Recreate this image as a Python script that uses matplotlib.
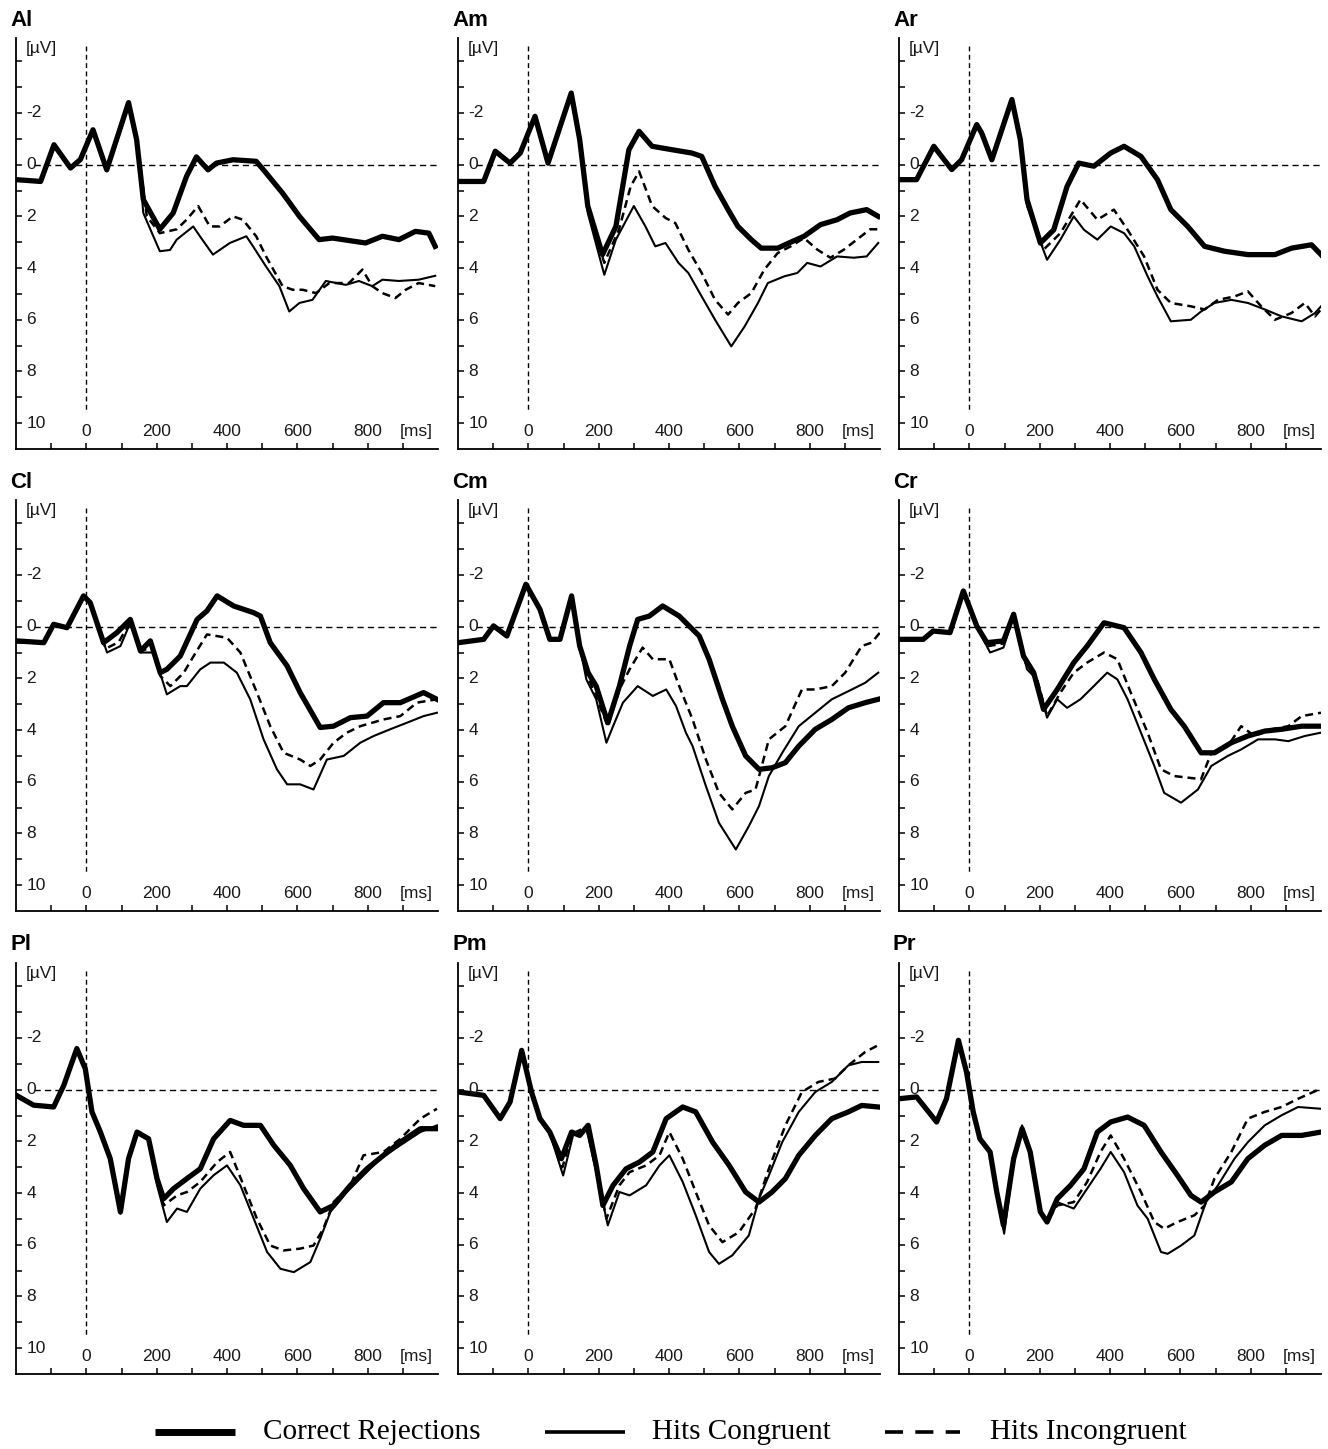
import matplotlib
matplotlib.use("Agg")
import matplotlib.pyplot as plt
from matplotlib.lines import Line2D

# ---------------- data (time ms, amplitude uV) ----------------
PANELS = ["Al", "Am", "Ar", "Cl", "Cm", "Cr", "Pl", "Pm", "Pr"]
CONDITIONS = ["Correct Rejections", "Hits Congruent", "Hits Incongruent"]

AL_CR = [(-199,0.58),(-130,0.65),(-92,-0.77),(-45,0.13),(-17,-0.2),(19,-1.35),(58,0.2),(120,-2.4),(143,-0.97),(162,1.35),(209,2.5),(247,1.87),(285,0.45),(313,-0.3),(346,0.2),(370,-0.06),(417,-0.19),(483,-0.13),(511,0.32),(558,1.1),(606,2.0),(662,2.9),(700,2.84),(794,3.03),(842,2.77),(889,2.9),(936,2.58),(974,2.65),(992,3.16)]
AL_HC = [(-199,0.6),(-130,0.65),(-92,-0.75),(-45,0.15),(-17,-0.2),(19,-1.3),(58,0.25),(120,-2.3),(145,-0.8),(162,1.87),(209,3.35),(238,3.3),(257,2.9),(304,2.39),(323,2.77),(360,3.48),(408,3.03),(455,2.77),(474,3.16),(511,3.94),(549,4.7),(577,5.68),(606,5.35),(643,5.23),(681,4.5),(738,4.65),(775,4.5),(813,4.7),(842,4.45),(889,4.5),(945,4.45),(992,4.3)]
AL_HI = [(-199,0.6),(-130,0.65),(-92,-0.75),(-45,0.15),(-17,-0.2),(19,-1.3),(58,0.22),(120,-2.3),(145,-0.85),(172,2.0),(209,2.65),(257,2.5),(285,2.13),(318,1.6),(351,2.39),(379,2.39),(417,2.0),(445,2.13),(483,2.77),(511,3.55),(558,4.7),(587,4.84),(615,4.84),(653,4.97),(691,4.58),(747,4.58),(785,4.06),(813,4.7),(842,4.97),(879,5.16),(908,4.84),(945,4.58),(992,4.7)]

AM_CR = [(-199,0.65),(-127,0.65),(-94,-0.52),(-52,-0.06),(-23,-0.45),(19,-1.87),(56,-0.06),(122,-2.77),(146,-0.97),(169,1.6),(211,3.48),(249,2.39),(286,-0.58),(315,-1.29),(352,-0.71),(408,-0.58),(465,-0.45),(493,-0.32),(531,0.84),(568,1.74),(596,2.39),(634,2.9),(662,3.23),(709,3.23),(746,3.0),(784,2.77),(831,2.32),(878,2.13),(915,1.87),(962,1.74),(995,2.0)]
AM_HC = [(-199,0.7),(-127,0.65),(-94,-0.5),(-52,-0.05),(-23,-0.45),(19,-1.85),(56,-0.05),(122,-2.7),(146,-0.9),(169,1.87),(216,4.26),(249,2.9),(300,1.6),(333,2.39),(361,3.16),(390,3.03),(427,3.8),(455,4.19),(493,5.1),(531,6.0),(577,7.03),(615,6.26),(653,5.35),(681,4.58),(728,4.32),(765,4.19),(793,3.8),(831,3.94),(878,3.55),(925,3.6),(962,3.55),(995,3.03)]
AM_HI = [(-199,0.7),(-127,0.65),(-94,-0.5),(-52,-0.05),(-23,-0.45),(19,-1.85),(56,-0.05),(122,-2.7),(146,-0.9),(169,1.75),(216,3.8),(258,2.5),(291,0.84),(315,0.26),(352,1.6),(390,2.06),(418,2.26),(455,3.29),(493,4.19),(531,5.23),(568,5.8),(596,5.35),(634,4.97),(671,4.06),(709,3.42),(746,3.16),(784,2.84),(822,3.29),(859,3.6),(897,3.29),(934,2.9),(972,2.5),(995,2.5)]

AR_CR = [(-199,0.58),(-150,0.58),(-101,-0.71),(-50,0.19),(-22,-0.19),(21,-1.55),(35,-1.23),(64,-0.19),(121,-2.52),(145,-0.97),(164,1.35),(202,3.03),(240,2.52),(278,0.84),(311,-0.06),(354,0.06),(402,-0.45),(440,-0.71),(488,-0.32),(535,0.58),(573,1.74),(621,2.39),(669,3.16),(726,3.35),(792,3.48),(869,3.48),(916,3.23),(973,3.1),(1000,3.48)]
AR_HC = [(-199,0.6),(-150,0.58),(-101,-0.7),(-50,0.2),(-22,-0.2),(21,-1.5),(35,-1.2),(64,-0.15),(121,-2.45),(145,-0.9),(164,1.6),(221,3.68),(259,2.9),(297,2.0),(326,2.52),(364,2.9),(402,2.39),(440,2.65),(469,3.16),(507,4.32),(535,5.1),(573,6.06),(630,6.0),(659,5.68),(697,5.35),(745,5.23),(792,5.35),(840,5.6),(888,5.87),(945,6.06),(983,5.74),(1000,5.48)]
AR_HI = [(-199,0.6),(-150,0.58),(-101,-0.7),(-50,0.2),(-22,-0.2),(21,-1.5),(35,-1.2),(64,-0.15),(121,-2.45),(145,-0.9),(164,1.5),(211,3.29),(259,2.65),(316,1.35),(364,2.13),(411,1.74),(450,2.52),(497,3.55),(535,4.84),(573,5.35),(630,5.48),(669,5.6),(707,5.23),(754,5.1),(792,4.9),(830,5.48),(869,6.0),(916,5.74),(954,5.35),(983,5.87),(1000,5.6)]

CL_CR = [(-199,0.55),(-121,0.62),(-93,-0.09),(-55,0.04),(-8,-1.19),(11,-0.93),(49,0.62),(87,0.23),(125,-0.28),(154,0.94),(182,0.55),(210,1.78),(229,1.65),(267,1.14),(315,-0.28),(343,-0.61),(372,-1.19),(419,-0.8),(476,-0.54),(495,-0.41),(523,0.62),(571,1.52),(608,2.55),(665,3.9),(703,3.85),(751,3.52),(798,3.46),(845,2.94),(893,2.94),(959,2.55),(997,2.81)]
CL_HC = [(-199,0.6),(-121,0.62),(-93,-0.05),(-55,0.05),(-8,-1.15),(11,-0.9),(59,1.0),(97,0.75),(125,-0.15),(154,1.0),(191,1.0),(229,2.62),(267,2.3),(286,2.3),(324,1.65),(353,1.39),(391,1.39),(428,1.78),(466,2.81),(504,4.36),(542,5.52),(571,6.1),(608,6.1),(646,6.3),(684,5.14),(732,5.0),(779,4.49),(817,4.23),(864,3.97),(911,3.72),(959,3.46),(997,3.33)]
CL_HI = [(-199,0.6),(-121,0.62),(-93,-0.05),(-55,0.05),(-8,-1.15),(11,-0.9),(55,0.85),(92,0.6),(125,-0.2),(154,0.95),(185,0.8),(210,1.9),(239,2.3),(277,1.78),(305,1.14),(343,0.3),(400,0.43),(438,1.0),(485,2.55),(523,3.85),(561,4.88),(608,5.14),(637,5.39),(665,5.14),(703,4.49),(741,4.1),(779,3.85),(845,3.59),(893,3.46),(940,2.94),(997,2.81)]

CM_CR = [(-199,0.62),(-127,0.49),(-99,-0.03),(-61,0.36),(-7,-1.64),(33,-0.67),(61,0.49),(90,0.49),(123,-1.19),(146,0.75),(170,1.78),(193,2.3),(226,3.72),(259,2.3),(288,0.75),(311,-0.28),(344,-0.41),(382,-0.8),(429,-0.41),(486,0.36),(514,1.26),(552,2.81),(580,3.85),(618,5.0),(656,5.52),(693,5.46),(731,5.26),(769,4.62),(816,3.97),(863,3.59),(910,3.14),(958,2.94),(995,2.81)]
CM_HC = [(-199,0.65),(-127,0.5),(-99,0.0),(-61,0.36),(-7,-1.6),(33,-0.65),(61,0.5),(90,0.5),(123,-1.15),(146,0.75),(165,2.04),(193,2.81),(222,4.49),(241,3.85),(269,2.94),(311,2.3),(354,2.68),(392,2.43),(420,3.07),(448,4.1),(467,4.62),(505,6.17),(542,7.59),(590,8.62),(627,7.72),(656,6.94),(684,5.78),(722,4.88),(769,3.85),(816,3.33),(863,2.81),(920,2.43),(958,2.17),(995,1.78)]
CM_HI = [(-199,0.65),(-127,0.5),(-99,0.0),(-61,0.36),(-7,-1.6),(33,-0.65),(61,0.5),(90,0.5),(123,-1.15),(146,0.75),(165,1.78),(226,3.85),(259,2.43),(288,1.65),(325,0.81),(354,1.26),(401,1.26),(429,2.3),(467,3.59),(505,5.14),(542,6.43),(580,7.07),(618,6.43),(646,6.3),(684,4.36),(731,3.85),(778,2.43),(816,2.43),(863,2.3),(901,1.78),(948,0.75),(976,0.62),(1000,0.23)]

CR_CR = [(-199,0.49),(-131,0.49),(-103,0.17),(-55,0.23),(-17,-1.38),(21,-0.03),(50,0.62),(97,0.55),(126,-0.48),(154,1.14),(183,1.78),(211,3.2),(250,2.43),(297,1.39),(335,0.75),(383,-0.15),(440,0.04),(488,1.0),(526,2.04),(573,3.2),(611,3.85),(659,4.88),(697,4.88),(745,4.49),(792,4.23),(840,4.04),(888,3.97),(945,3.85),(1000,3.85)]
CR_HC = [(-199,0.5),(-131,0.5),(-103,0.2),(-55,0.25),(-17,-1.35),(21,0.0),(59,1.0),(97,0.81),(126,-0.41),(164,1.65),(192,2.04),(221,3.52),(250,2.81),(278,3.14),(316,2.81),(354,2.3),(392,1.78),(421,2.04),(450,2.81),(488,4.1),(526,5.39),(554,6.43),(602,6.81),(650,6.3),(688,5.39),(735,5.0),(773,4.75),(821,4.36),(869,4.36),(907,4.43),(954,4.23),(1000,4.1)]
CR_HI = [(-199,0.5),(-131,0.5),(-103,0.2),(-55,0.25),(-17,-1.35),(21,0.0),(55,0.75),(97,0.65),(126,-0.45),(160,1.4),(190,1.9),(221,3.46),(259,2.55),(297,1.78),(335,1.39),(383,1.0),(421,1.26),(459,2.55),(507,4.1),(545,5.52),(583,5.78),(659,5.9),(688,4.88),(735,4.62),(773,3.85),(811,4.23),(859,3.97),(907,3.85),(945,3.46),(1000,3.33)]

PL_CR = [(-199,0.22),(-150,0.6),(-93,0.67),(-64,-0.17),(-27,-1.59),(-3,-0.81),(16,0.86),(40,1.64),(68,2.67),(97,4.73),(120,2.67),(144,1.64),(177,1.9),(201,3.44),(220,4.22),(248,3.83),(286,3.44),(324,3.06),(362,1.9),(409,1.19),(447,1.38),(495,1.38),(533,2.15),(580,2.93),(618,3.83),(665,4.73),(703,4.48),(751,3.7),(798,3.06),(845,2.54),(893,2.03),(950,1.51),(997,1.51)]
PL_HC = [(-199,0.25),(-150,0.6),(-93,0.67),(-64,-0.15),(-27,-1.55),(-3,-0.8),(16,0.9),(40,1.7),(68,2.7),(97,4.8),(120,2.7),(144,1.7),(177,1.95),(201,3.7),(229,5.12),(258,4.6),(286,4.73),(324,3.83),(362,3.31),(400,2.93),(438,3.7),(476,4.99),(514,6.28),(552,6.93),(590,7.06),(637,6.67),(665,5.77),(694,4.73),(741,3.96),(779,3.44),(836,2.67),(893,2.15),(950,1.64),(997,1.38)]
PL_HI = [(-199,0.25),(-150,0.6),(-93,0.67),(-64,-0.15),(-27,-1.55),(-3,-0.8),(16,0.9),(40,1.7),(68,2.7),(97,4.75),(120,2.7),(144,1.65),(177,1.9),(201,3.5),(220,4.48),(258,4.09),(286,3.96),(324,3.57),(372,2.8),(409,2.41),(447,3.7),(485,4.99),(523,6.03),(561,6.22),(608,6.15),(646,6.03),(674,5.38),(703,4.35),(751,3.7),(788,2.54),(845,2.41),(893,1.9),(950,1.12),(997,0.74)]

PM_CR = [(-199,0.09),(-127,0.22),(-80,1.12),(-52,0.48),(-19,-1.52),(9,0.09),(33,1.12),(61,1.64),(94,2.67),(123,1.64),(146,1.77),(170,1.38),(193,2.93),(212,4.48),(241,3.7),(278,3.06),(316,2.8),(354,2.41),(392,1.12),(439,0.67),(476,0.86),(524,2.03),(571,2.93),(618,3.96),(656,4.35),(693,3.96),(731,3.44),(769,2.54),(816,1.77),(863,1.12),(910,0.86),(948,0.61),(995,0.67)]
PM_HC = [(-199,0.1),(-127,0.22),(-80,1.1),(-52,0.48),(-19,-1.5),(9,0.1),(33,1.15),(61,1.7),(99,3.32),(127,1.77),(165,1.51),(193,3.19),(226,5.25),(259,3.96),(288,4.09),(335,3.7),(373,2.93),(401,2.54),(439,3.57),(476,4.86),(514,6.28),(542,6.74),(580,6.41),(627,5.64),(656,4.22),(684,3.32),(722,2.03),(769,0.86),(816,0.09),(863,-0.3),(910,-0.94),(948,-1.07),(995,-1.07)]
PM_HI = [(-199,0.1),(-127,0.22),(-80,1.1),(-52,0.48),(-19,-1.5),(9,0.1),(33,1.15),(61,1.7),(97,3.0),(125,1.7),(165,1.45),(193,3.0),(222,4.99),(259,3.7),(288,3.19),(335,2.93),(373,2.54),(401,1.64),(439,2.67),(476,3.96),(514,5.25),(552,5.9),(599,5.51),(646,4.6),(684,3.06),(731,1.38),(778,0.09),(825,-0.3),(872,-0.43),(910,-0.94),(958,-1.46),(995,-1.72)]

PR_CR = [(-199,0.35),(-150,0.28),(-93,1.25),(-65,0.35),(-31,-1.91),(-8,-0.68),(11,0.86),(30,1.9),(59,2.41),(78,3.96),(97,5.25),(126,2.67),(150,1.51),(173,2.41),(202,4.73),(221,5.12),(250,4.22),(288,3.7),(326,3.06),(364,1.64),(402,1.25),(450,1.06),(497,1.38),(545,2.41),(592,3.32),(630,4.09),(659,4.35),(697,3.96),(745,3.57),(792,2.67),(840,2.15),(888,1.77),(945,1.77),(1000,1.64)]
PR_HC = [(-199,0.35),(-150,0.3),(-93,1.25),(-65,0.35),(-31,-1.85),(-8,-0.65),(11,0.9),(30,1.95),(59,2.45),(78,4.0),(99,5.57),(126,2.8),(150,1.38),(173,2.45),(202,4.75),(221,5.12),(250,4.35),(297,4.6),(335,3.83),(373,3.06),(402,2.41),(440,3.19),(478,4.48),(507,4.99),(545,6.28),(564,6.35),(602,6.03),(640,5.64),(673,4.35),(707,3.7),(754,2.67),(792,2.03),(840,1.38),(888,0.99),(935,0.67),(1000,0.74)]
PR_HI = [(-199,0.35),(-150,0.3),(-93,1.25),(-65,0.35),(-31,-1.85),(-8,-0.65),(11,0.9),(30,1.95),(59,2.45),(78,4.0),(98,5.4),(126,2.75),(150,1.45),(173,2.45),(202,4.75),(221,5.1),(250,4.48),(297,4.35),(335,3.57),(373,2.41),(402,1.77),(440,2.67),(488,3.96),(526,5.12),(554,5.38),(592,5.12),(640,4.86),(669,4.48),(697,3.44),(745,2.41),(792,1.12),(840,0.86),(888,0.67),(935,0.35),(1000,-0.04)]

Y_TICK_LABELS = [-2, 0, 2, 4, 6, 8, 10]
X_TICK_LABELS = [0, 200, 400, 600, 800]

SERIES = {
    "Al": (AL_CR, AL_HC, AL_HI), "Am": (AM_CR, AM_HC, AM_HI), "Ar": (AR_CR, AR_HC, AR_HI),
    "Cl": (CL_CR, CL_HC, CL_HI), "Cm": (CM_CR, CM_HC, CM_HI), "Cr": (CR_CR, CR_HC, CR_HI),
    "Pl": (PL_CR, PL_HC, PL_HI), "Pm": (PM_CR, PM_HC, PM_HI), "Pr": (PR_CR, PR_HC, PR_HI),
}

# ---------------- styling ----------------
W, H = 1328, 1449
STYLES = [dict(lw=3.8, ls="-"), dict(lw=1.5, ls="-"), dict(lw=1.8, ls=(0, (3.2, 2.0)))]
COL_LEFT = [16, 458, 899]
ROW_TOP = [38, 500, 963]
AX_W, AX_H = 422, 411
SANS = "Liberation Sans"
TXT = "#1a1a1a"

fig = plt.figure(figsize=(W / 100, H / 100), dpi=100)
fig.patch.set_facecolor("white")

for i, name in enumerate(PANELS):
    r, c = divmod(i, 3)
    left = COL_LEFT[c] / W
    bottom = 1 - (ROW_TOP[r] + AX_H) / H
    ax = fig.add_axes([left, bottom, AX_W / W, AX_H / H])
    ax.set_xlim(-200, 1000)
    ax.set_ylim(11.0, -4.9)
    for s in ("top", "right"):
        ax.spines[s].set_visible(False)
    for s in ("left", "bottom"):
        ax.spines[s].set_linewidth(1.3)
    ax.set_yticks(range(-4, 11))
    ax.set_xticks(range(-100, 1000, 100))
    ax.tick_params(direction="in", length=4, width=1.1, labelleft=False, labelbottom=False)

    # reference lines
    ax.plot([0, 0], [-4.6, 9.5], color="black", lw=1.0, ls=(0, (3.5, 2.5)))
    ax.plot([-150, 1000], [0, 0], color="black", lw=1.0, ls=(0, (4.5, 3.0)))

    for data, st in zip(SERIES[name], STYLES):
        t = [p[0] for p in data]
        v = [p[1] for p in data]
        ax.plot(t, v, color="black", lw=st["lw"], ls=st["ls"], solid_joinstyle="round")

    for yl in Y_TICK_LABELS:
        ax.text(0.024, yl, str(yl), transform=ax.get_yaxis_transform(), ha="left",
                va="center", fontsize=12.5, family=SANS, color=TXT)
    for xl in X_TICK_LABELS:
        ax.text(xl, 0.042, str(xl), transform=ax.get_xaxis_transform(), ha="center",
                va="center", fontsize=12.5, family=SANS, color=TXT)
    ax.text(937, 0.042, "[ms]", transform=ax.get_xaxis_transform(), ha="center",
            va="center", fontsize=12.5, family=SANS, color=TXT)
    ax.text(0.022, 0.975, "[µV]", transform=ax.transAxes, ha="left", va="center",
            fontsize=12.5, family=SANS, color=TXT)
    ax.text(-6 / AX_W, 1 + 18 / AX_H, name, transform=ax.transAxes, ha="left",
            va="center", fontsize=16, fontweight="bold", family=SANS, color="black")

# ---------------- legend ----------------
LEG_Y = 1 - 1432 / H
leg_items = [((155, 235), 263, dict(lw=5.0, ls="-")),
             ((545, 625), 652, dict(lw=2.6, ls="-")),
             ((885, 960), 990, dict(lw=2.6, ls=(0, (5.0, 3.4))))]
for label, ((x0, x1), tx, st) in zip(CONDITIONS, leg_items):
    fig.add_artist(Line2D([x0 / W, x1 / W], [LEG_Y, LEG_Y], transform=fig.transFigure,
                          color="black", lw=st["lw"], ls=st["ls"], solid_capstyle="butt",
                          dash_capstyle="butt"))
    fig.text(tx / W, LEG_Y, label, ha="left", va="center", fontsize=21,
             family="Liberation Serif", color="black")

fig.savefig("out.png", dpi=100, facecolor="white")
